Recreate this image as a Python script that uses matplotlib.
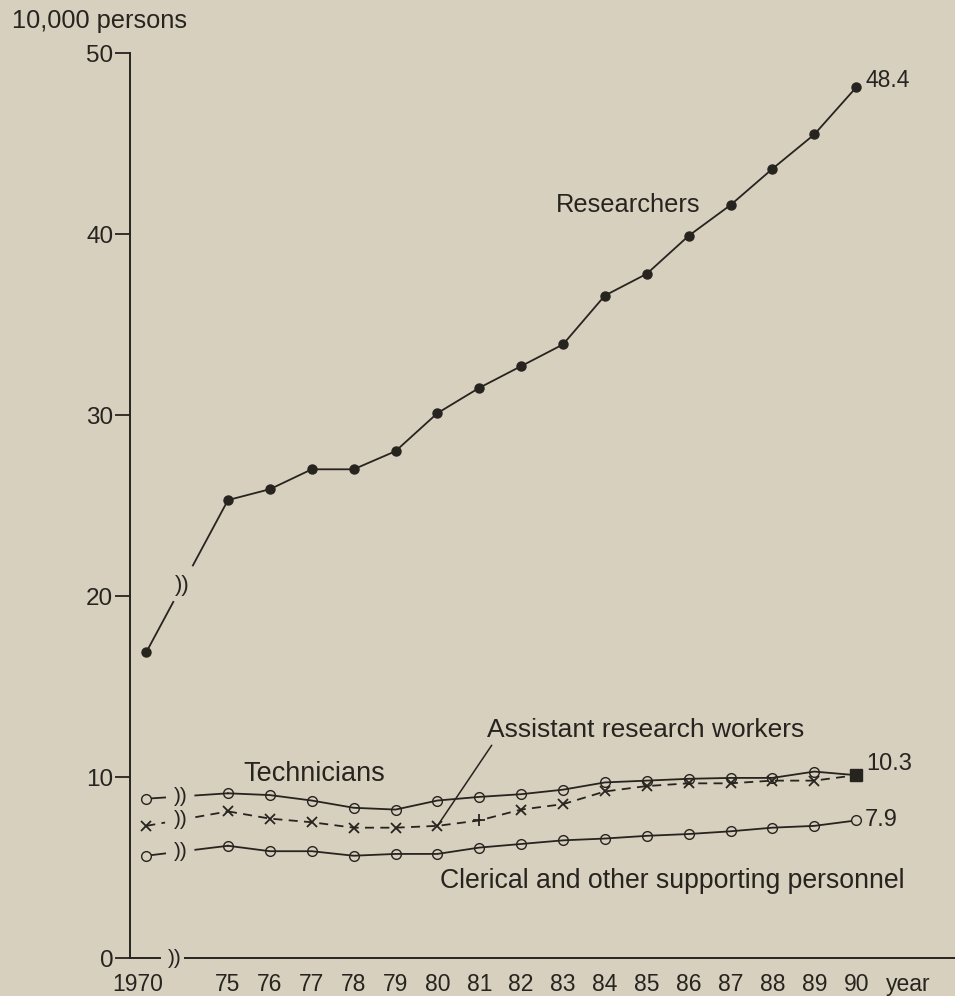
import matplotlib
matplotlib.use('Agg')
import matplotlib.pyplot as plt

# years on the x axis; 1970 sits before an axis break
years = [1970, 1975, 1976, 1977, 1978, 1979, 1980, 1981, 1982,
         1983, 1984, 1985, 1986, 1987, 1988, 1989, 1990]
tick_labels = ['1970', '75', '76', '77', '78', '79', '80', '81', '82',
               '83', '84', '85', '86', '87', '88', '89', '90']

# values in units of 10,000 persons
researchers = [16.9, 25.3, 25.9, 27.0, 27.0, 28.0, 30.1, 31.5, 32.7,
               33.9, 36.6, 37.8, 39.9, 41.6, 43.6, 45.5, 48.1]
technicians = [8.8, 9.1, 9.0, 8.7, 8.3, 8.2, 8.7, 8.9, 9.05,
               9.3, 9.7, 9.8, 9.9, 9.95, 9.95, 10.3, 10.1]
assistants = [7.3, 8.1, 7.7, 7.5, 7.2, 7.2, 7.3, 7.6, 8.2,
              8.5, 9.2, 9.5, 9.65, 9.65, 9.8, 9.8, 10.1]
clerical = [5.65, 6.2, 5.9, 5.9, 5.65, 5.75, 5.75, 6.1, 6.3,
            6.5, 6.6, 6.75, 6.85, 7.0, 7.2, 7.3, 7.6]
end_labels = {'researchers': '48.4', 'technicians': '10.3', 'clerical': '7.9'}

BG = '#d7d0bf'
INK = '#27231f'
LW = 1.3
BREAK_X = 73.05          # where 1970 is drawn (left of the break)
XMIN, XMAX = 72.66, 92.36

plt.rcParams['font.family'] = ['Liberation Sans', 'DejaVu Sans']
plt.rcParams['text.color'] = INK


def xpos(year):
    return BREAK_X if year == 1970 else year - 1900


xs = [xpos(y) for y in years]

fig = plt.figure(figsize=(9.55, 9.96), dpi=100, facecolor=BG)
ax = fig.add_axes([130 / 955, 38 / 996, 825 / 955, 905 / 996])
ax.set_facecolor(BG)
ax.set_xlim(XMIN, XMAX)
ax.set_ylim(0, 50)


def broken_link(vals, ls, cut=(0.23, 0.6), t_sym=0.42, sym_size=15):
    x0, x1 = xs[0], xs[1]
    y0, y1 = vals[0], vals[1]
    for a, b in [(0, cut[0]), (cut[1], 1)]:
        ax.plot([x0 + (x1 - x0) * a, x0 + (x1 - x0) * b],
                [y0 + (y1 - y0) * a, y0 + (y1 - y0) * b],
                color=INK, lw=LW, ls=ls, zorder=2)
    ax.text(x0 + (x1 - x0) * t_sym, y0 + (y1 - y0) * t_sym, '))',
            fontsize=sym_size, ha='center', va='center', color=INK)


dash = (0, (5, 3.5))

# researchers
broken_link(researchers, '-', cut=(0.33, 0.57), t_sym=0.44, sym_size=16)
ax.plot(xs[1:], researchers[1:], color=INK, lw=LW, zorder=2)
ax.plot(xs, researchers, ls='none', marker='o', ms=6.5, color=INK, zorder=3)

# technicians
broken_link(technicians, '-')
ax.plot(xs[1:], technicians[1:], color=INK, lw=LW, zorder=2)
ax.plot(xs[1:-1], technicians[1:-1], ls='none', marker='o', ms=7,
        mfc='none', mec=INK, mew=1.0, zorder=3)
ax.plot(xs[0], technicians[0], ls='none', marker='o', ms=7,
        mfc=BG, mec=INK, mew=1.0, zorder=3)

# assistant research workers
broken_link(assistants, dash)
ax.plot(xs[1:], assistants[1:], color=INK, lw=LW, ls=dash, zorder=2)
plus_idx = years.index(1981)
x_idx = [i for i in range(len(years) - 1) if i != plus_idx]
ax.plot([xs[i] for i in x_idx], [assistants[i] for i in x_idx], ls='none',
        marker='x', ms=7.5, mew=1.3, color=INK, zorder=3)
ax.plot(xs[plus_idx], assistants[plus_idx], ls='none', marker='+', ms=9,
        mew=1.3, color=INK, zorder=3)
ax.plot(xs[-1], (technicians[-1] + assistants[-1]) / 2, ls='none', marker='s',
        ms=8, color=INK, zorder=4)

# clerical
broken_link(clerical, '-')
ax.plot(xs[1:], clerical[1:], color=INK, lw=LW, zorder=2)
ax.plot(xs[1:-1], clerical[1:-1], ls='none', marker='o', ms=7,
        mfc='none', mec=INK, mew=1.0, zorder=3)
ax.plot([xs[0], xs[-1]], [clerical[0], clerical[-1]], ls='none', marker='o',
        ms=7, mfc=BG, mec=INK, mew=1.0, zorder=3)

# axes styling
for side in ['top', 'right', 'bottom']:
    ax.spines[side].set_visible(False)
ax.spines['left'].set_color(INK)
ax.spines['left'].set_linewidth(1.4)
ax.set_yticks([0, 10, 20, 30, 40, 50])
ax.set_yticklabels(['0', '10', '20', '30', '40', '50'])
ax.tick_params(axis='y', direction='out', length=11, width=1.3, color=INK,
               pad=1, labelsize=17.5, labelcolor=INK)

# x axis with a break after 1970
ax.plot([XMIN, 73.38], [0, 0], color=INK, lw=1.4, clip_on=False)
ax.plot([73.98, XMAX], [0, 0], color=INK, lw=1.4, clip_on=False)
ax.text(73.72, 0, '))', fontsize=15, ha='center', va='center', color=INK,
        clip_on=False)
ax.set_xticks([72.85] + xs[1:] + [91.25])
ax.set_xticklabels(tick_labels[:1] + tick_labels[1:] + ['year'])
ax.tick_params(axis='x', length=0, pad=11, labelsize=16.5, labelcolor=INK)

fig.text(12 / 955, 1 - 21 / 996, '10,000 persons', fontsize=18.3,
         ha='left', va='center', color=INK)

# series labels
ax.text(84.55, 41.6, 'Researchers', fontsize=18.3, ha='center', va='center')
ax.text(75.36, 10.15, 'Technicians', fontsize=19.5, ha='left', va='center')
ax.annotate('Assistant research workers', xy=(xs[years.index(1980)], assistants[years.index(1980)]),
            xytext=(81.19, 12.57), fontsize=19, ha='left', va='center',
            arrowprops=dict(arrowstyle='-', color=INK, lw=1.1,
                            relpos=(0.02, 0.0), shrinkA=0, shrinkB=0))
ax.text(80.06, 4.25, 'Clerical and other supporting personnel', fontsize=19.2,
        ha='left', va='center')

# end values
ax.annotate(end_labels['researchers'], xy=(xs[-1], researchers[-1]),
            xytext=(7, 5), textcoords='offset points', fontsize=16.5,
            ha='left', va='center')
ax.annotate(end_labels['technicians'], xy=(xs[-1], technicians[-1]),
            xytext=(7, 8), textcoords='offset points', fontsize=17,
            ha='left', va='center')
ax.annotate(end_labels['clerical'], xy=(xs[-1], clerical[-1]),
            xytext=(6, 0), textcoords='offset points', fontsize=17,
            ha='left', va='center')

fig.savefig('out.png', dpi=100, facecolor=BG)
